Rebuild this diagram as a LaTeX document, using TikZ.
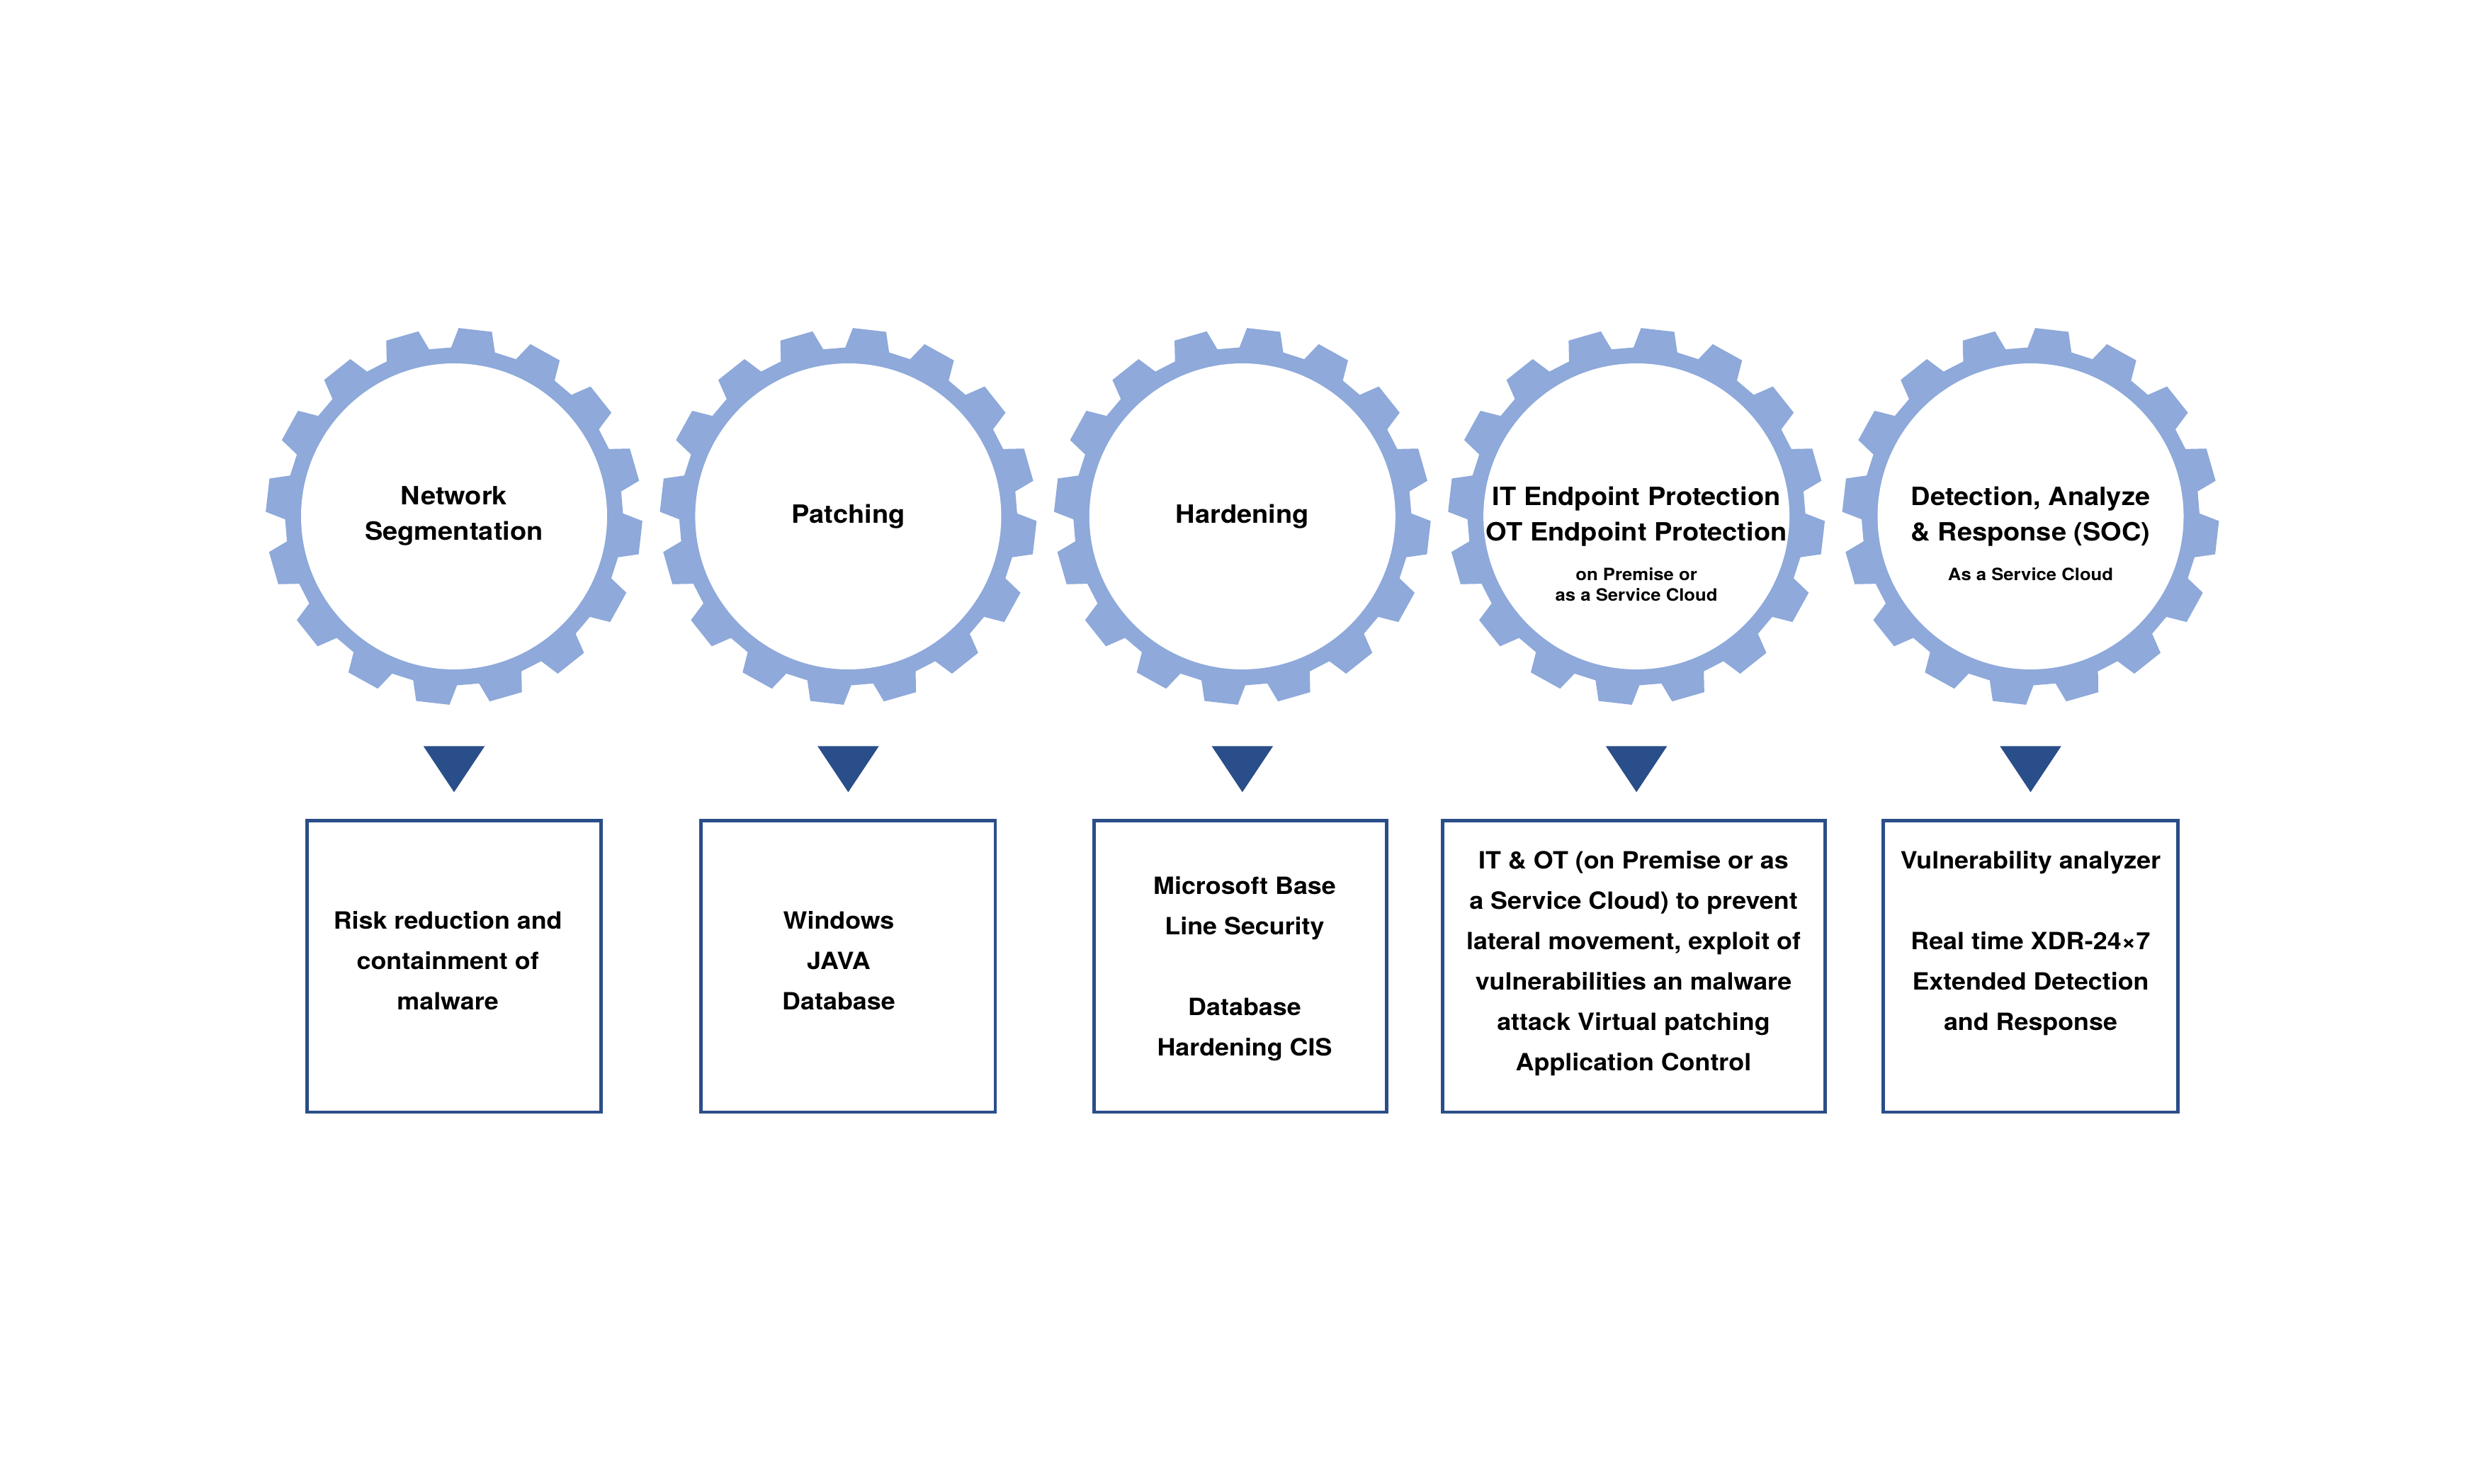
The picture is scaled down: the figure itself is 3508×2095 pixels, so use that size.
\documentclass[tikz,border=0pt]{standalone}
\usepackage{fontspec}
\setmainfont[FakeStretch=1.07]{TeX Gyre Heros}
\usetikzlibrary{calc}
\definecolor{gearblue}{HTML}{8EA9DA}
\definecolor{darkblue}{HTML}{2A4E89}
\newcommand\mygear[2]{%
  \coordinate (#1) at (#2,729);
  \fill[gearblue,shift={(#1)}] (-91:238.5) \foreach \k in {0,...,15}{ -- ({\k*22.5-91}:238.5) -- ({\k*22.5-88.6}:266) -- ({\k*22.5-78.4}:266) -- ({\k*22.5-76}:238.5)} -- cycle;
  \fill[white] (#1) circle[radius=216];
}
\newcommand\mymarker[2]{%
  \coordinate (#1) at (#2,1053.3);
  \fill[darkblue] ($(#1)+(-43.3,0)$) -- ($(#1)+(43.3,0)$) -- ($(#1)+(0,65)$) -- cycle;
}
\begin{document}
\begin{tikzpicture}[x=1pt,y=-1pt,
  title/.style={font=\fontsize{35.5}{50}\selectfont\bfseries, align=center, inner sep=0pt},
  subtitle/.style={font=\fontsize{24}{29}\selectfont\bfseries, align=center, inner sep=0pt},
  boxtext/.style={font=\fontsize{33.5}{57}\selectfont\bfseries, align=center, inner sep=0pt},
  infobox/.style={draw=darkblue, line width=4.7pt, minimum width=#1, minimum height=411.7pt, inner sep=0pt}
]
\fill[white] (0,0) rectangle (3508,2095);
\useasboundingbox (0,0) rectangle (3508,2095);

% gears
\mygear{g1}{641}
\mygear{g2}{1197.4}
\mygear{g3}{1753.8}
\mygear{g4}{2310.1}
\mygear{g5}{2866.5}

% gear texts
\node[title] (n1) at (641,728.8) {Network\\Segmentation};
\node[title] (n2) at (1197.4,728.8) {Patching};
\node[title] (n3) at (1753.8,728.8) {Hardening};
\node[title] (n4) at (2310.1,728.8) {IT Endpoint Protection\\OT Endpoint Protection};
\node[subtitle] (s4) at (2310.1,825.4) {on Premise or\\as a Service Cloud};
\node[title] (n5) at (2866.5,728.8) {Detection, Analyze\\\& Response (SOC)};
\node[subtitle] (s5) at (2866.5,810.4) {As a Service Cloud};

% markers
\mymarker{t1}{641}
\mymarker{t2}{1197.4}
\mymarker{t3}{1753.8}
\mymarker{t4}{2310.1}
\mymarker{t5}{2866.5}

% boxes
\node[infobox=415.4pt] (b1) at (641,1364.2) {};
\node[infobox=415.4pt] (b2) at (1197.4,1364.2) {};
\node[infobox=413pt] (b3) at (1751,1364.2) {};
\node[infobox=540pt] (b4) at (2306.7,1364.2) {};
\node[infobox=415.4pt] (b5) at (2866.5,1364.2) {};

% box texts
\node[boxtext] (x1) at (632.2,1356) {Risk reduction and\\containment of\\malware};
\node[boxtext] (x2) at (1184,1356) {Windows\\JAVA\\Database};
\node[boxtext] (x3) at (1757,1368) {Microsoft Base\\Line Security\\[57pt]Database\\Hardening CIS};
\node[boxtext] (x4) at (2306,1360) {IT \& OT (on Premise or as\\a Service Cloud) to prevent\\lateral movement, exploit of\\vulnerabilities an malware\\attack Virtual patching\\Application Control};
\node[boxtext] (x5) at (2866.5,1332) {Vulnerability analyzer\\[57pt]Real time XDR-24×7\\Extended Detection\\and Response};
\end{tikzpicture}
\end{document}
